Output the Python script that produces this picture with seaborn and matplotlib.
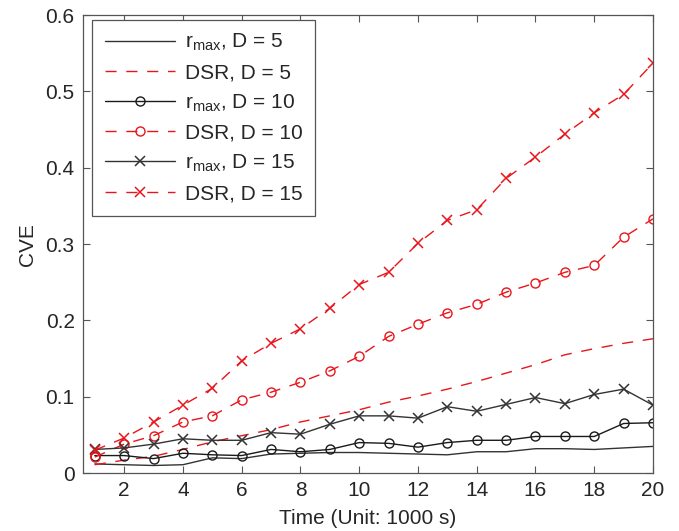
import numpy as np
import pandas as pd
import matplotlib
matplotlib.use("Agg")
import matplotlib.pyplot as plt
import seaborn as sns

# Time steps (unit: 1000 s)
time = list(range(1, 21))

# CVE of the r_max estimator
rmax_d5 = [0.012, 0.011, 0.010, 0.011, 0.020, 0.019, 0.025, 0.026, 0.027, 0.027,
           0.026, 0.025, 0.024, 0.028, 0.028, 0.032, 0.032, 0.031, 0.033, 0.035]
rmax_d10 = [0.023, 0.023, 0.019, 0.026, 0.024, 0.023, 0.031, 0.028, 0.031, 0.040,
            0.039, 0.034, 0.040, 0.043, 0.043, 0.048, 0.048, 0.048, 0.065, 0.066]
rmax_d15 = [0.031, 0.033, 0.038, 0.045, 0.043, 0.043, 0.053, 0.051, 0.064, 0.075,
            0.075, 0.072, 0.087, 0.081, 0.090, 0.099, 0.091, 0.103, 0.110, 0.089]

# CVE of the DSR estimator
dsr_d5 = [0.011, 0.017, 0.022, 0.031, 0.041, 0.049, 0.057, 0.067, 0.075, 0.083,
          0.093, 0.101, 0.110, 0.120, 0.131, 0.142, 0.155, 0.163, 0.170, 0.176]
dsr_d10 = [0.021, 0.038, 0.049, 0.067, 0.075, 0.096, 0.106, 0.119, 0.134, 0.153,
           0.179, 0.195, 0.210, 0.221, 0.237, 0.249, 0.263, 0.272, 0.309, 0.333]
dsr_d15 = [0.030, 0.046, 0.067, 0.089, 0.111, 0.147, 0.170, 0.189, 0.216, 0.247,
           0.263, 0.301, 0.331, 0.345, 0.386, 0.414, 0.444, 0.472, 0.496, 0.537]

labels = [r"r$_{\mathregular{max}}$, D = 5", "DSR, D = 5",
          r"r$_{\mathregular{max}}$, D = 10", "DSR, D = 10",
          r"r$_{\mathregular{max}}$, D = 15", "DSR, D = 15"]
series = [rmax_d5, dsr_d5, rmax_d10, dsr_d10, rmax_d15, dsr_d15]

sns.set_style("ticks")
plt.rcParams["font.family"] = ["Liberation Sans", "DejaVu Sans"]
plt.rcParams["mathtext.fontset"] = "custom"
plt.rcParams["mathtext.rm"] = "Liberation Sans"
plt.rcParams["mathtext.it"] = "Liberation Sans"

text_c = "#262626"
axis_c = "#555555"

fig = plt.figure(figsize=(6.79, 5.31), dpi=100)
ax = fig.add_axes([0.1223, 0.109, 0.8394, 0.8627])

black = "#1a1a1a"
red = "#e8151b"
styles = [
    dict(color="#333333", marker=None, ls="-"),
    dict(color=red, marker=None, ls="--"),
    dict(color=black, marker="o", ls="-"),
    dict(color=red, marker="o", ls="--"),
    dict(color="#333333", marker="x", ls="-"),
    dict(color=red, marker="x", ls="--"),
]

for vals, lab, st in zip(series, labels, styles):
    df = pd.DataFrame({"time": time, "cve": vals})
    kw = dict(color=st["color"], linewidth=1.0, label=lab, linestyle=st["ls"])
    if st["marker"] == "o":
        kw.update(marker="o", markersize=6.5, markerfacecolor="none",
                  markeredgecolor=st["color"], markeredgewidth=1.0)
    elif st["marker"] == "x":
        kw.update(marker="x", markersize=7, markeredgecolor=st["color"],
                  markeredgewidth=1.1)
    sns.lineplot(data=df, x="time", y="cve", ax=ax, **kw)

for line in ax.get_lines():
    if line.get_linestyle() == "--":
        line.set_dashes((8, 7))

ax.set_xlim(0.6, 20)
ax.set_ylim(0, 0.6)
ax.set_xticks(np.arange(2, 21, 2))
ax.set_yticks(np.arange(0, 0.61, 0.1))
ax.set_yticklabels(["0", "0.1", "0.2", "0.3", "0.4", "0.5", "0.6"])

ax.set_xlabel("Time (Unit: 1000 s)", fontsize=15, color=text_c, labelpad=6)
ax.set_ylabel("CVE", fontsize=15, color=text_c, labelpad=6)

ax.tick_params(direction="in", length=5, width=0.8, top=True, right=True,
               labelsize=15, colors=axis_c, labelcolor=text_c, pad=6)
for sp in ax.spines.values():
    sp.set_visible(True)
    sp.set_color(axis_c)
    sp.set_linewidth(0.9)

leg = ax.legend(loc="upper left", bbox_to_anchor=(0.016, 0.99),
                fontsize=15, frameon=True, fancybox=False,
                handlelength=3.4, handletextpad=0.45, labelspacing=0.48,
                borderpad=0.6, borderaxespad=0.0, framealpha=1)
leg.get_frame().set_edgecolor(axis_c)
leg.get_frame().set_linewidth(0.9)
for t in leg.get_texts():
    t.set_color(text_c)

fig.savefig("out.png", dpi=100)
